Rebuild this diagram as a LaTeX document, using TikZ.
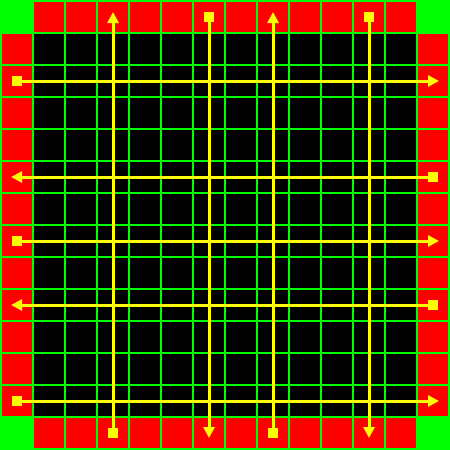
\documentclass[tikz,border=0pt]{standalone}
\usepackage{tikz}
\usetikzlibrary{arrows.meta}
\definecolor{gridG}{HTML}{00FF00}
\definecolor{cellR}{HTML}{FF0000}
\definecolor{pathY}{HTML}{FFFF00}
\tikzset{
  src/.style={rectangle, fill=pathY, draw=none, minimum size=5pt, inner sep=0pt},
  lane/.style={-{Triangle[length=5.5pt,width=5.5pt]}, line width=1.5pt, draw=pathY},
}
\begin{document}
\begin{tikzpicture}[x=0.5pt,y=-0.5pt]
    \useasboundingbox (0,0) rectangle (450,450);
    \fill[gridG] (0,0) rectangle (450,450);
    % border cells
    \foreach \k in {1,...,12} {
      \fill[cellR] (32*\k+2,2) rectangle +(30,30);
      \fill[cellR] (32*\k+2,418) rectangle +(30,30);
      \fill[cellR] (2,32*\k+2) rectangle +(30,30);
      \fill[cellR] (418,32*\k+2) rectangle +(30,30);
    }
    % inner cells
    \foreach \i in {1,...,12} {
      \foreach \j in {1,...,12} {
        \fill[black] (32*\i+2,32*\j+2) rectangle +(30,30);
      }
    }
    % vertical lanes
    \node[src] (v1) at (113,433) {};
    \coordinate (v1e) at (113,12);
    \node[src] (v2) at (209,17) {};
    \coordinate (v2e) at (209,438);
    \node[src] (v3) at (273,433) {};
    \coordinate (v3e) at (273,12);
    \node[src] (v4) at (369,17) {};
    \coordinate (v4e) at (369,438);
    % horizontal lanes
    \node[src] (h1) at (17,81) {};
    \coordinate (h1e) at (439,81);
    \node[src] (h2) at (433,177) {};
    \coordinate (h2e) at (11,177);
    \node[src] (h3) at (17,241) {};
    \coordinate (h3e) at (439,241);
    \node[src] (h4) at (433,305) {};
    \coordinate (h4e) at (11,305);
    \node[src] (h5) at (17,401) {};
    \coordinate (h5e) at (439,401);
    \draw[lane] (v1) -- (v1e);
    \draw[lane] (v2) -- (v2e);
    \draw[lane] (v3) -- (v3e);
    \draw[lane] (v4) -- (v4e);
    \draw[lane] (h1) -- (h1e);
    \draw[lane] (h2) -- (h2e);
    \draw[lane] (h3) -- (h3e);
    \draw[lane] (h4) -- (h4e);
    \draw[lane] (h5) -- (h5e);
\end{tikzpicture}
\end{document}
